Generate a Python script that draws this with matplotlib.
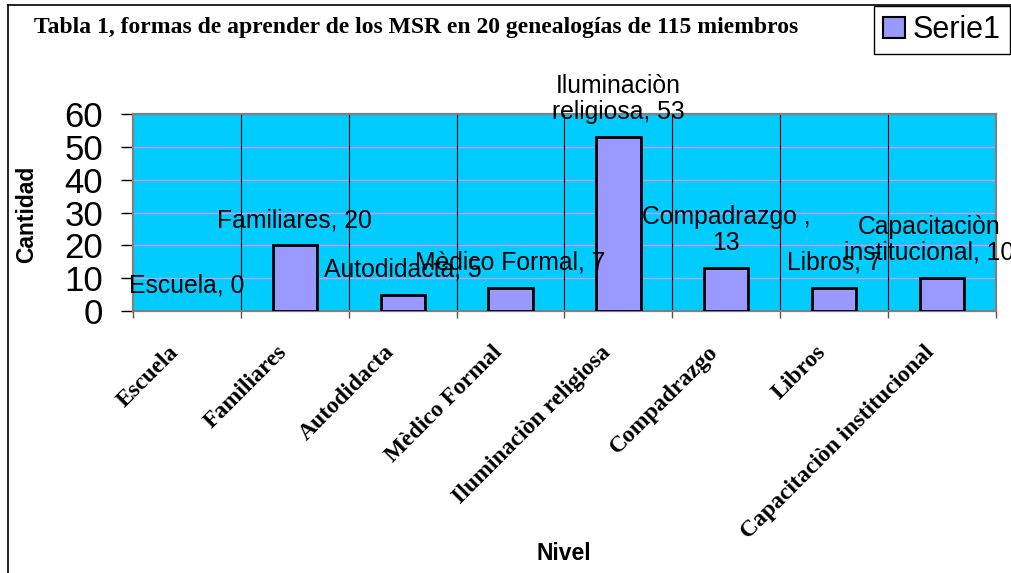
import matplotlib
matplotlib.use("Agg")
import matplotlib.pyplot as plt
from matplotlib.lines import Line2D
from matplotlib.transforms import ScaledTranslation
import numpy as np

# Datos de la tabla
categorias = ["Escuela", "Familiares", "Autodidacta", "Mèdico Formal",
              "Iluminaciòn religiosa", "Compadrazgo", "Libros",
              "Capacitaciòn institucional"]
cantidades = [0, 20, 5, 7, 53, 13, 7, 10]
etiquetas = ["Escuela, 0", "Familiares, 20", "Autodidacta, 5", "Mèdico Formal, 7",
             "Iluminaciòn\nreligiosa, 53", "Compadrazgo ,\n13", "Libros, 7",
             "Capacitaciòn\ninstitucional, 10"]
y_ticks = [0, 10, 20, 30, 40, 50, 60]

W, H = 1012, 573
fig = plt.figure(figsize=(W / 100, H / 100), dpi=100)
ax = fig.add_axes([133 / W, 1 - 311 / H, (996 - 133) / W, (311 - 114) / H])

SANS = "Liberation Sans"
SERIF = "Liberation Serif"

x = np.arange(len(categorias))
ax.set_facecolor("#00CCFF")
bars = ax.bar(x, cantidades, width=0.41, color="#9999FF", edgecolor="black",
              linewidth=2, label="Serie1", zorder=3)
# una barra de altura 0 no se ve en el original
for b, v in zip(bars, cantidades):
    if v == 0:
        b.set_linewidth(0)

ax.set_xlim(-0.5, len(categorias) - 0.5)
ax.set_ylim(0, 60)

# rejilla: horizontales violeta, verticales negras en los límites de categoría
for yv in y_ticks[1:-1]:
    ax.axhline(yv, color="#CC99FF", linewidth=1, zorder=1)
for xv in np.arange(0.5, len(categorias) - 0.5, 1):
    ax.axvline(xv, color="black", linewidth=0.8, zorder=1)

for s in ax.spines.values():
    s.set_color("#808080")
    s.set_linewidth(1.6)

ax.set_yticks(y_ticks)
ax.set_yticklabels([str(v) for v in y_ticks], fontfamily=SANS, fontsize=25)
ax.tick_params(axis="y", length=8.6, width=1, color="black", pad=13)

ax.set_xticks(x)
ax.set_xticklabels(categorias, fontfamily=SERIF, fontweight="bold", fontsize=17,
                   rotation=45, ha="right", va="center", rotation_mode="anchor")
ax.tick_params(axis="x", which="major", length=0, pad=27.5)
shift = ScaledTranslation(-11 / 100, 0, fig.dpi_scale_trans)
for lbl in ax.get_xticklabels():
    lbl.set_transform(lbl.get_transform() + shift)
ax.set_xticks(np.arange(-0.5, len(categorias), 1), minor=True)
ax.tick_params(axis="x", which="minor", length=5, width=1, color="#555555")

# la última etiqueta está algo desplazada a la izquierda en el original
for i, (xi, v, lab) in enumerate(zip(x, cantidades, etiquetas)):
    dx = -9 if i == len(x) - 1 else 0
    ax.annotate(lab, (xi, v), xytext=(dx, 9.5), textcoords="offset points",
                ha="center", va="bottom", fontfamily=SANS, fontsize=17.8,
                linespacing=1.12, zorder=4, annotation_clip=False)

fig.text(27 / W, 1 - 214 / H, "Cantidad", rotation=90, ha="center", va="center",
         fontfamily=SANS, fontweight="bold", fontsize=16.5)
fig.text(564 / W, 1 - 553 / H, "Nivel", ha="center", va="center",
         fontfamily=SANS, fontweight="bold", fontsize=16.5)
fig.text(34 / W, 1 - 27 / H,
         "Tabla 1, formas de aprender de los MSR en 20 genealogías de 115 miembros",
         ha="left", va="center", fontfamily=SERIF, fontweight="bold", fontsize=17)

# marco exterior (solo se ve arriba e izquierda)
fig.add_artist(Line2D([8 / W, 8 / W], [0, 1 - 5 / H], transform=fig.transFigure,
                      color="black", linewidth=1.2))
fig.add_artist(Line2D([8 / W, 1], [1 - 5 / H, 1 - 5 / H], transform=fig.transFigure,
                      color="black", linewidth=1.2))

leg = ax.legend(loc="upper right", bbox_to_anchor=(1010 / W, 1 - 6 / H),
                bbox_transform=fig.transFigure, borderaxespad=0,
                prop={"family": SANS, "size": 22}, fancybox=False,
                framealpha=1, edgecolor="black", handlelength=0.72,
                handleheight=0.72, handletextpad=0.25, borderpad=0.3)
leg.get_frame().set_linewidth(1)
leg.legend_handles[0].set_linewidth(1.5)

fig.savefig("out.png", dpi=100)
